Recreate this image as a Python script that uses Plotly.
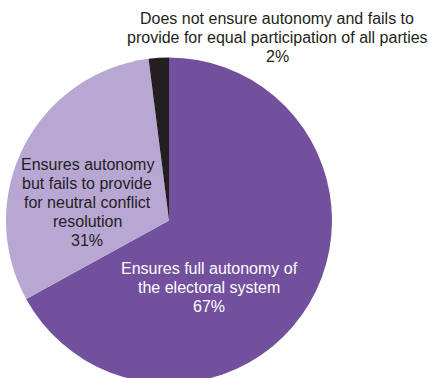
import plotly.graph_objects as go

# Survey shares for each category
categories = [
    "Ensures full autonomy of<br>the electoral system",
    "Ensures autonomy<br>but fails to provide<br>for neutral conflict<br>resolution",
    "Does not ensure autonomy and fails to<br>provide for equal participation of all parties",
]
shares = [67, 31, 2]
colors = ["#72509E", "#B8A7D3", "#231F20"]

W, H = 429, 378
FIG_H = 384  # slightly taller than the view so the pie runs off the bottom edge

fig = go.Figure(
    go.Pie(
        labels=categories,
        values=shares,
        sort=False,
        direction="clockwise",
        rotation=0,
        marker=dict(colors=colors, line=dict(width=0)),
        textinfo="none",
        hoverinfo="label+percent",
        domain=dict(x=[6 / W, 332 / W], y=[0, (FIG_H - 57) / FIG_H]),
        showlegend=False,
    )
)

# Label block positions: centre x and centre y of the first line (pixels), text colours
label_pos = [(209, 268), (87, 164.5), (277, 18.5)]
label_col = ["#FFFFFF", "#231F20", "#231F20"]
LINE_STEP = 19

for name, val, (px, py), col in zip(categories, shares, label_pos, label_col):
    lines = name.split("<br>") + [f"{val}%"]
    for i, line in enumerate(lines):
        fig.add_annotation(
            x=px / W,
            y=1 - (py + i * LINE_STEP) / FIG_H,
            xref="paper",
            yref="paper",
            text=line,
            showarrow=False,
            xanchor="center",
            yanchor="middle",
            align="center",
            font=dict(family="Liberation Sans, Arial, sans-serif", size=16, color=col),
        )

fig.update_layout(
    width=W,
    height=FIG_H,
    margin=dict(l=0, r=0, t=0, b=0),
    paper_bgcolor="white",
    plot_bgcolor="white",
)

fig.write_html(
    "out.html",
    post_script="document.documentElement.style.overflow='hidden';document.body.style.overflow='hidden';",
)
